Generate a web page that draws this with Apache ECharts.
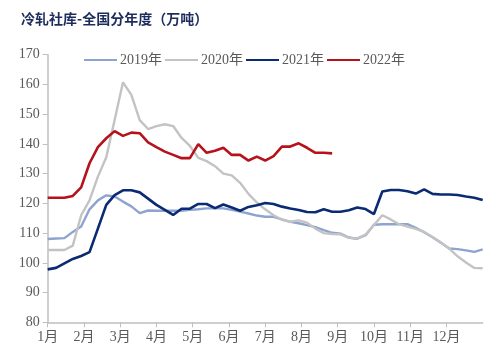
<!DOCTYPE html>
<html>
<head>
<meta charset="utf-8">
<script src="https://cdn.jsdelivr.net/npm/echarts@6/dist/echarts.min.js"></script>
<style>
html,body{margin:0;padding:0;background:#fff;}
#c{width:500px;height:360px;}
</style>
</head>
<body>
<div id="c"></div>
<script>
const title = '冷轧社库-全国分年度（万吨）';
const monthLabels = ['1月','2月','3月','4月','5月','6月','7月','8月','9月','10月','11月','12月'];
const seriesNames = ['2019年','2020年','2021年','2022年'];
const weeksPerYear = 52;

const y2019 = [108,108.2,108.3,110.4,112.2,118,121,122.7,122.3,120.6,119,116.7,117.6,117.5,117.5,117.5,117.5,117.8,118,118.3,118.3,118.3,117.8,117.2,116.6,115.9,115.5,115.5,114.6,113.8,113.3,112.7,112,111,110.1,109.8,108.5,108.1,109.3,112.8,113,113,113,113,111.8,110.3,108.6,106.8,104.8,104.6,104.2,103.7,104.5];
const y2020 = [104.3,104.3,104.3,105.8,116,121,129,135.5,148,160.7,156.5,148,145,146,146.6,146,142,139.3,135.3,134.2,132.5,130,129.4,126.9,123.2,120.3,118,116,114.5,113.8,114.3,113.5,111.5,110,109.7,109.6,108.4,108.2,109.5,112.7,116,114.6,113,112.2,111.4,110.4,108.7,106.8,104.8,102.2,100.1,98.3,98.2];
const y2021 = [97.8,98.3,99.8,101.3,102.3,103.6,111.5,119.5,122.8,124.4,124.4,123.7,121.6,119.5,117.8,116.1,118.2,118.2,119.8,119.8,118.4,119.6,118.6,117.5,118.8,119.4,120.1,119.8,118.9,118.3,117.8,117.1,117,118,117.2,117.2,117.7,118.6,118.1,116.4,124,124.5,124.5,124.1,123.3,124.7,123.2,123,123,122.8,122.3,121.9,121.1];
const y2022 = [121.9,121.9,121.9,122.5,125.4,133.5,138.9,141.9,144.3,142.7,143.8,143.6,140.5,138.9,137.4,136.3,135.2,135.2,139.9,137,137.7,138.7,136.3,136.3,134.4,135.7,134.4,135.9,139.1,139.1,140.2,138.7,137,137,136.8];

const colors = ['#8ea3cf','#c3c3c3','#0a2a73','#b5121b'];
const allY = [y2019,y2020,y2021,y2022];
const toPts = arr => arr.map((v,i)=>[i*12/weeksPerYear, v]);

const axisFont = {fontFamily:'Liberation Serif, Noto Sans CJK SC', fontSize:14, color:'#595959'};

const chart = echarts.init(document.getElementById('c'), null, {renderer:'canvas'});
chart.setOption({
  animation:false,
  backgroundColor:'#fff',
  title:{
    text:title, left:16, top:7,
    textStyle:{fontFamily:'Noto Sans CJK SC', fontWeight:'bold', fontSize:14, color:'#1c2c5c'}
  },
  legend:{
    data:seriesNames, top:48, left:79,
    icon:'rect', itemWidth:33, itemHeight:2, itemGap:3,
    textStyle:{fontFamily:'Liberation Serif, Noto Sans CJK SC', fontSize:14, color:'#595959', padding:[0,0,0,-2]}
  },
  grid:{left:47.7, right:17.3, top:54.7, bottom:37.7, containLabel:false},
  xAxis:{
    type:'value', min:0, max:12, interval:1,
    axisLine:{show:true, lineStyle:{color:'#bfbfbf', width:1.5}},
    axisTick:{show:true, length:5, lineStyle:{color:'#bfbfbf'}},
    splitLine:{show:false},
    axisLabel:{...axisFont, margin:8, showMaxLabel:false,
      formatter:v => (v>=0 && v<12) ? monthLabels[Math.round(v)] : ''}
  },
  yAxis:{
    type:'value', min:80, max:170, interval:10,
    axisLine:{show:true, lineStyle:{color:'#bfbfbf', width:1.5}},
    axisTick:{show:true, length:5, lineStyle:{color:'#bfbfbf'}},
    splitLine:{show:false},
    axisLabel:{...axisFont, margin:8}
  },
  series: seriesNames.map((n,k)=>({
    name:n, type:'line', data:toPts(allY[k]), symbol:'none', smooth:false,
    lineStyle:{color:colors[k], width: k>=2 ? 2.6 : 2.4},
    itemStyle:{color:colors[k]}
  }))
});
</script>
</body>
</html>
